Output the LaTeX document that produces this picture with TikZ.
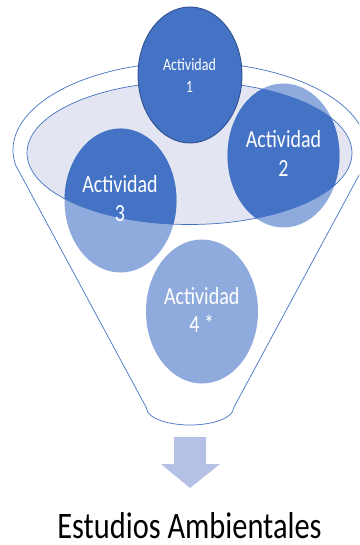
\documentclass[tikz,border=0pt]{standalone}
\usepackage{fontspec}
\usepackage{graphicx}
\setmainfont{Carlito}
\usetikzlibrary{shapes.geometric}
\definecolor{darkblue}{HTML}{4472C4}
\definecolor{lightblue}{HTML}{8FAADC}
\definecolor{rimfill}{HTML}{E3E6F2}
\definecolor{borderblue}{HTML}{2F528F}
\definecolor{arrowblue}{HTML}{B4C1E4}
\newcommand{\vs}[1]{\scalebox{1}[1.23]{#1}}
\tikzset{
  blob/.style={ellipse, minimum width=112pt, minimum height=144pt, inner sep=0pt, outer sep=0pt},
  lightblob/.style={blob, fill=lightblue},
  topblob/.style={ellipse, minimum width=104pt, minimum height=136pt, inner sep=0pt, fill=darkblue, draw=borderblue, line width=0.9pt},
  funnelline/.style={draw=darkblue, line width=0.7pt},
  bigtxt/.style={anchor=base, text=white, inner sep=0pt, font=\fontsize{20}{24}\selectfont},
  smalltxt/.style={anchor=base, text=white, inner sep=0pt, font=\fontsize{14}{17}\selectfont},
  captxt/.style={anchor=base, text=black, inner sep=0pt, text depth=0pt, font=\fontsize{30.4}{36}\selectfont},
  arrowshape/.style={fill=arrowblue}
}
\begin{document}
\begin{tikzpicture}[x=1pt, y=-1pt]
\useasboundingbox (0,0) rectangle (359,545);
\clip (0,0) rectangle (359,545);
% inner rim
\fill[rimfill] (189.5,153) ellipse [x radius=162.5, y radius=71.5];
% circles 2,3,4 (light parts)
\node[lightblob] (c2) at (283.5,155.5) {};
\node[lightblob] (c3) at (120.5,200.5) {};
\node[lightblob] (c4) at (202,311.5) {};
% dark parts inside the rim
\begin{scope}
  \clip (189.5,153) ellipse [x radius=162.5, y radius=71.5];
  \fill[darkblue] (c2.center) ellipse [x radius=56, y radius=72];
  \fill[darkblue] (c3.center) ellipse [x radius=56, y radius=72];
\end{scope}
% rim outline
\draw[funnelline] (189.5,153) ellipse [x radius=162.5, y radius=71.5];
% funnel outline
\draw[funnelline] (15.7,165.3) arc[start angle=170, end angle=370, x radius=177, y radius=88]
  -- (233.5,408) arc[start angle=0, end angle=180, x radius=43.5, y radius=17] -- cycle;
% circle 1 on top
\node[topblob] (c1) at (190,75) {};
% texts
\node[smalltxt] (t1a) at (189.5,71) {\vs{Actividad}};
\node[smalltxt] (t1b) at (189.5,93) {\vs{1}};
\node[bigtxt] (t2a) at (283.5,148) {\vs{Actividad}};
\node[bigtxt] (t2b) at (283.5,177) {\vs{2}};
\node[bigtxt] (t3a) at (120,193) {\vs{Actividad}};
\node[bigtxt] (t3b) at (120,222) {\vs{3}};
\node[bigtxt] (t4a) at (201.7,304) {\vs{Actividad}};
\node[bigtxt] (t4b) at (201.7,332) {\vs{4 *}};
% arrow
\fill[arrowshape] (174,437) -- (206,437) -- (206,464) -- (220,464) -- (190,488) -- (161,464) -- (174,464) -- cycle;
% caption
\node[captxt] (cap) at (189.5,538) {\vs{Estudios Ambientales}};
\end{tikzpicture}
\end{document}
